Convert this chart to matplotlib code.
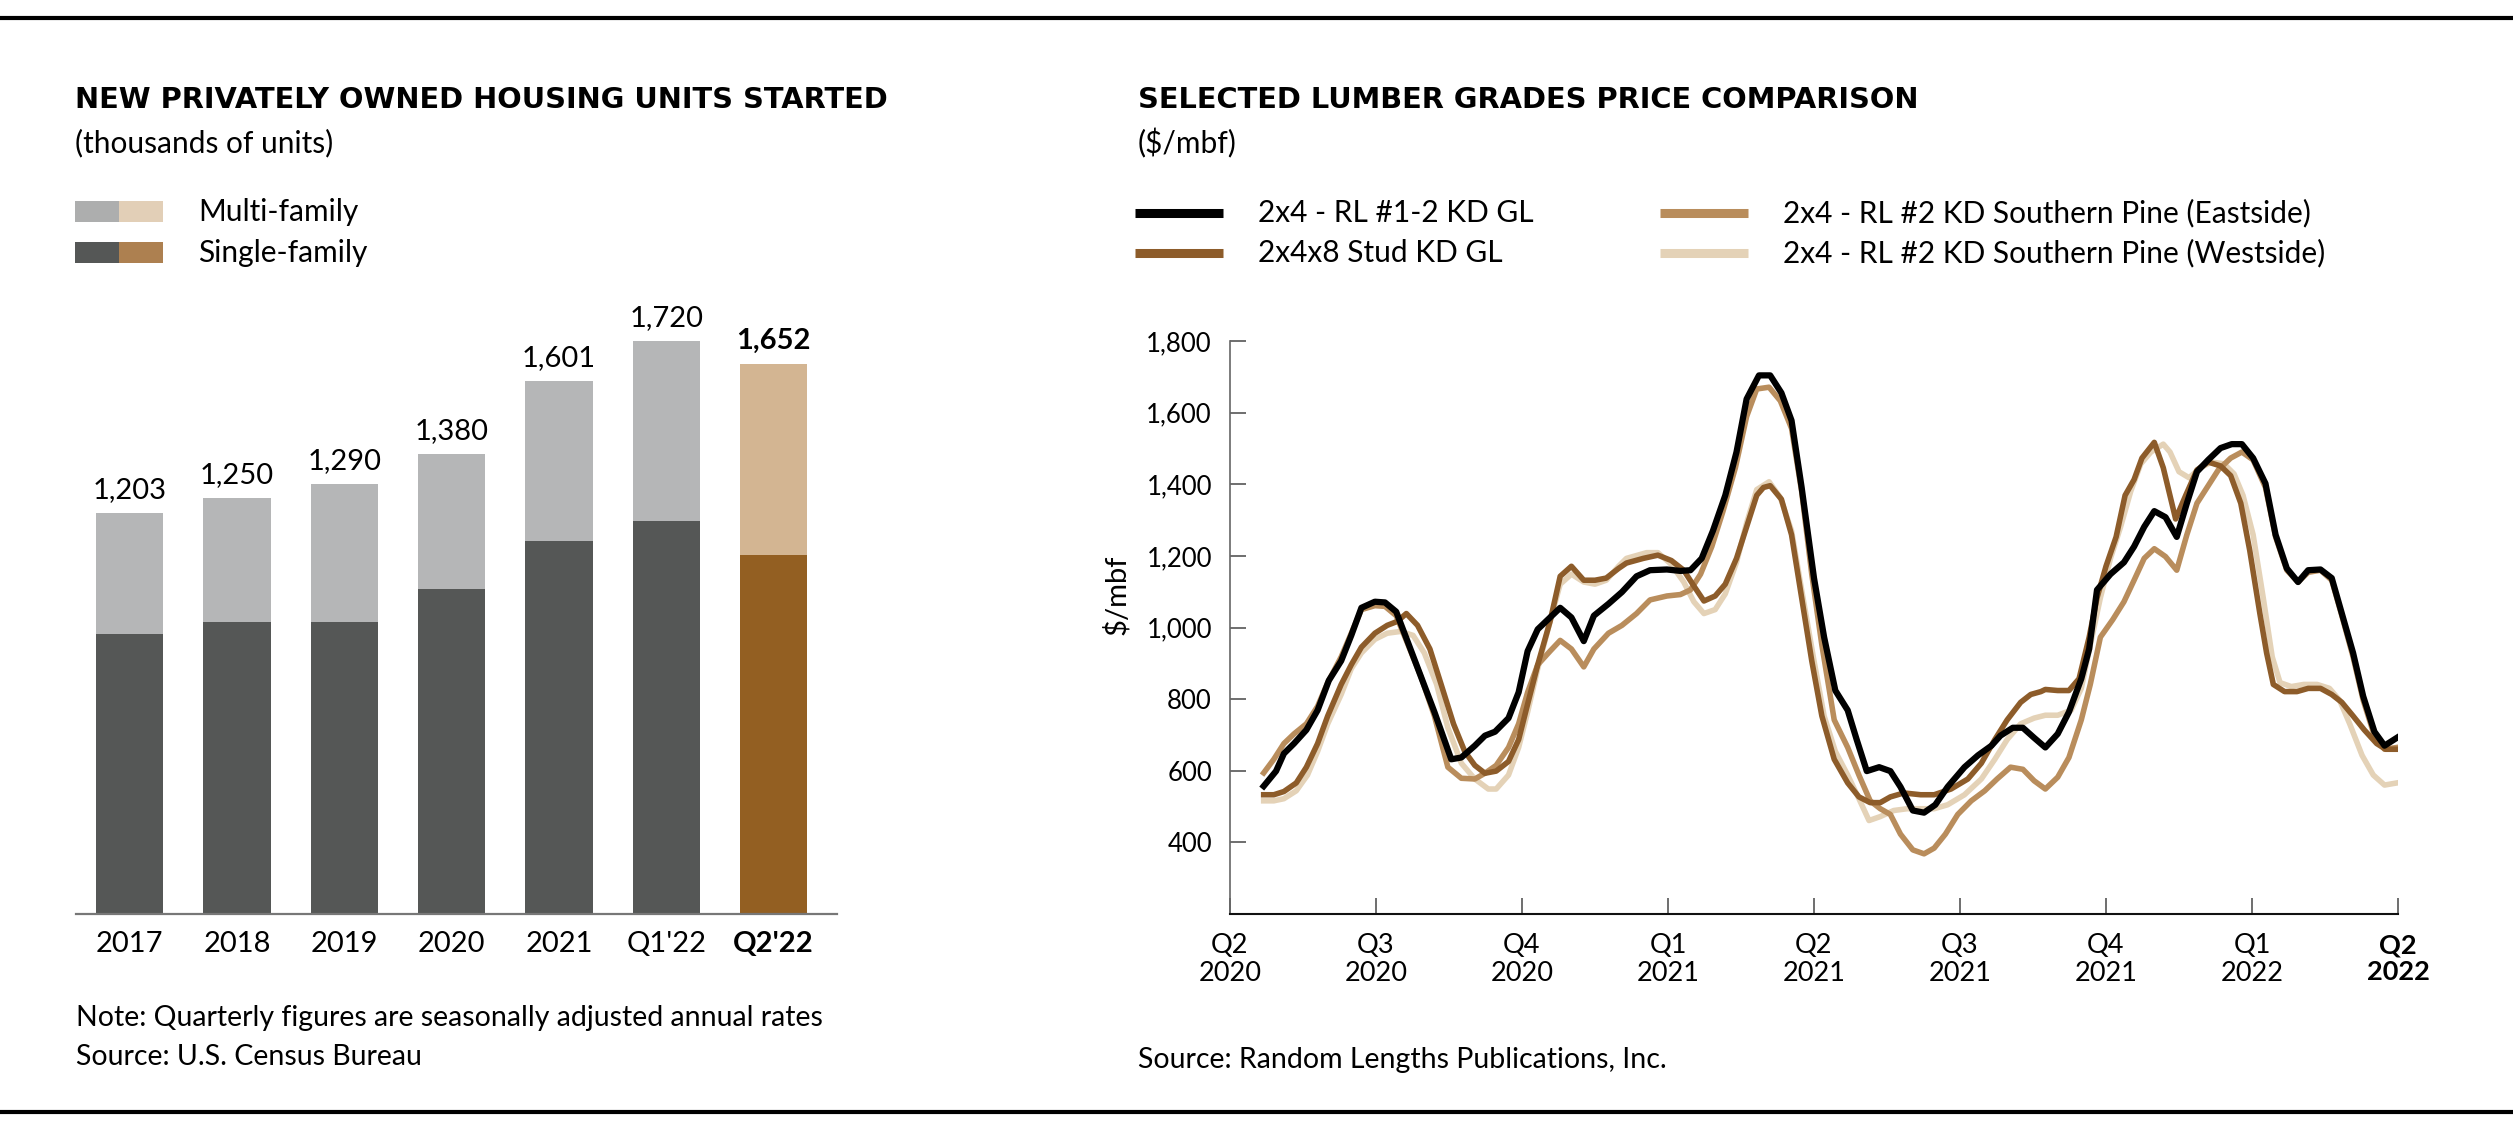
import matplotlib
matplotlib.use("Agg")
import matplotlib.pyplot as plt
from matplotlib.lines import Line2D
from matplotlib.patches import Rectangle

plt.rcParams['font.family'] = ['Lato', 'DejaVu Sans']

# ---- housing starts (thousands of units) ----
categories = ['2017', '2018', '2019', '2020', '2021', "Q1'22", "Q2'22"]
total_units = [1203, 1250, 1290, 1380, 1601, 1720, 1652]
single_family = [840, 877, 877, 976, 1120, 1180, 1078]

# ---- lumber prices ($/mbf), x = weeks since start of Q2 2020 ----
quarter_labels = ['Q2\n2020', 'Q3\n2020', 'Q4\n2020', 'Q1\n2021', 'Q2\n2021',
                  'Q3\n2021', 'Q4\n2021', 'Q1\n2022', 'Q2\n2022']

gl_weeks = [3.0, 4.1, 4.8, 5.7, 6.8, 7.8, 8.8, 9.9, 10.8, 11.7, 12.9, 13.8, 14.8, 15.8, 17.0,
            18.2, 19.7, 20.6, 21.8, 22.7, 23.6, 24.8, 25.7, 26.5, 27.4, 28.5, 29.4, 30.4, 31.5,
            32.4, 33.7, 34.9, 36.2, 37.4, 38.9, 40.1, 41.0, 42.0, 43.0, 44.1, 45.1, 46.0, 47.1,
            48.1, 49.1, 50.0, 50.9, 52.0, 52.9, 53.9, 55.0, 55.8, 56.7, 57.8, 58.8, 59.7, 60.8,
            61.8, 62.8, 63.9, 65.4, 66.6, 67.8, 68.6, 69.7, 70.6, 71.6, 72.6, 73.7, 74.7, 75.8,
            76.5, 77.2, 78.4, 79.6, 80.5, 81.4, 82.3, 83.3, 84.3, 85.2, 86.1, 87.1, 88.2, 89.2,
            90.1, 91.1, 92.2, 93.1, 94.1, 95.1, 96.0, 97.1, 98.1, 99.1, 100.0, 100.9, 101.9,
            102.8, 103.9]
gl_price = [557, 599, 648, 676, 714, 769, 852, 907, 978, 1055, 1072, 1070, 1044, 962, 863,
            764, 632, 637, 670, 698, 709, 747, 819, 934, 995, 1028, 1055, 1028, 962,
            1033, 1066, 1099, 1143, 1160, 1162, 1158, 1160, 1193, 1270, 1369, 1490, 1638, 1704,
            1704, 1655, 1578, 1391, 1138, 973, 824, 769, 687, 599, 610, 599, 555, 489,
            483, 505, 555, 610, 643, 670, 698, 720, 720, 692, 665, 703, 764, 857,
            940, 1105, 1149, 1182, 1226, 1281, 1325, 1308, 1253, 1347, 1435, 1468, 1501, 1512,
            1512, 1473, 1402, 1259, 1165, 1127, 1160, 1162, 1138, 1028, 929, 808, 709,
            670, 692]

stud_weeks = [3.0, 3.9, 4.8, 5.9, 6.8, 7.8, 8.7, 9.9, 10.8, 11.7, 12.9, 14.0, 14.9, 15.7, 16.7,
              17.8, 18.8, 19.9, 20.9, 21.8, 22.7, 23.7, 24.8, 25.7, 26.5, 27.4, 28.5, 29.4, 30.4,
              31.5, 32.5, 33.5, 34.6, 35.3, 36.8, 38.1, 39.3, 40.4, 41.3, 42.2, 43.2, 44.1, 45.1,
              46.0, 46.9, 47.5, 48.1, 49.1, 50.0, 50.9, 51.8, 52.7, 53.8, 55.0, 56.0, 57.0, 57.9,
              58.8, 60.0, 61.5, 62.7, 64.2, 65.7, 66.9, 68.1, 69.2, 70.4, 71.3, 72.2, 72.6, 73.7,
              74.7, 75.6, 76.5, 77.2, 78.0, 78.9, 79.7, 80.5, 81.2, 82.3, 83.1, 84.2, 85.1, 86.1,
              87.1, 88.2, 89.1, 90.0, 90.8, 91.7, 92.3, 92.9, 93.9, 95.0, 96.0, 97.1, 98.1, 99.0,
              100.0, 101.0, 102.1, 102.9, 103.9]
stud_price = [533, 533, 542, 566, 610, 676, 753, 841, 896, 945, 984, 1006, 1017, 1039, 1006,
              940, 841, 731, 654, 615, 593, 599, 626, 687, 786, 896, 1017, 1143, 1171,
              1132, 1132, 1138, 1165, 1180, 1193, 1202, 1187, 1160, 1116, 1074, 1088, 1121, 1193,
              1281, 1369, 1391, 1396, 1358, 1259, 1083, 907, 753, 632, 566, 527, 511, 511,
              527, 538, 533, 533, 549, 577, 621, 687, 742, 791, 813, 821, 827, 824,
              824, 857, 973, 1083, 1171, 1253, 1369, 1413, 1473, 1517, 1446, 1303, 1369, 1440,
              1462, 1451, 1424, 1347, 1215, 1039, 929, 841, 821, 821, 830, 830, 813, 791,
              753, 714, 676, 660, 660]

east_weeks = [3.0, 3.9, 4.8, 5.7, 6.8, 7.8, 8.7, 9.9, 10.8, 11.7, 12.9, 13.8, 14.8, 15.8, 17.0,
              18.2, 19.4, 20.6, 21.8, 22.7, 23.7, 24.8, 25.7, 26.5, 27.4, 28.5, 29.4, 30.4, 31.5,
              32.4, 33.7, 34.9, 36.2, 37.4, 38.9, 40.1, 41.0, 41.9, 42.9, 43.9, 45.0, 46.0, 46.9,
              48.0, 49.0, 50.0, 50.9, 51.8, 52.7, 53.8, 55.0, 56.0, 57.0, 57.9, 58.8, 59.7, 60.8,
              61.8, 62.7, 63.7, 64.8, 66.0, 67.2, 68.3, 69.5, 70.6, 71.6, 72.6, 73.7, 74.7, 75.8,
              76.6, 77.5, 78.6, 79.6, 80.5, 81.4, 82.3, 83.3, 84.3, 85.2, 86.1, 87.0, 88.0, 89.1,
              90.1, 91.1, 92.2, 93.1, 94.1, 95.1, 96.0, 97.1, 98.1, 99.0, 100.0, 100.9, 101.9,
              102.8, 103.9]
east_price = [594, 632, 676, 703, 731, 780, 846, 918, 984, 1050, 1061, 1059, 1033, 956, 863,
              753, 610, 579, 577, 593, 615, 665, 731, 819, 896, 934, 964, 940, 890,
              940, 984, 1006, 1039, 1077, 1088, 1092, 1105, 1149, 1226, 1325, 1446, 1589, 1666,
              1671, 1633, 1556, 1380, 1149, 951, 742, 665, 588, 516, 494, 478, 423, 379,
              368, 384, 423, 478, 516, 544, 577, 610, 604, 572, 549, 582, 637, 742,
              841, 973, 1022, 1072, 1132, 1193, 1220, 1198, 1160, 1259, 1347, 1391, 1440, 1473,
              1490, 1468, 1391, 1253, 1160, 1127, 1154, 1160, 1132, 1033, 918, 797, 698,
              660, 665]

west_weeks = [3.0, 3.9, 4.8, 5.9, 6.9, 7.8, 8.7, 9.9, 10.8, 11.7, 12.9, 14.0, 15.2, 16.3, 17.3,
              18.4, 19.4, 20.6, 21.8, 23.0, 23.7, 24.8, 25.7, 26.5, 27.4, 28.5, 29.4, 30.4, 31.5,
              32.5, 33.5, 34.6, 35.3, 37.1, 38.1, 39.3, 40.4, 41.3, 42.2, 43.2, 44.1, 45.1, 46.0,
              46.9, 48.0, 49.0, 50.0, 50.9, 52.0, 52.9, 53.9, 55.0, 56.0, 56.9, 57.9, 59.1, 60.3,
              61.5, 62.7, 63.9, 65.4, 66.9, 68.1, 69.2, 70.4, 71.6, 72.6, 73.7, 74.9, 75.8, 76.6,
              77.5, 78.4, 79.3, 80.2, 81.1, 82.0, 83.1, 83.7, 84.5, 85.4, 86.4, 87.4, 88.5, 89.4,
              90.2, 91.1, 92.0, 92.8, 93.5, 94.5, 95.6, 96.8, 97.9, 98.8, 99.7, 100.8, 101.8,
              102.8, 103.9]
west_price = [516, 516, 522, 544, 588, 654, 731, 813, 885, 929, 967, 984, 989, 978, 929,
              841, 720, 621, 577, 549, 549, 588, 665, 764, 885, 1017, 1121, 1149, 1127,
              1121, 1132, 1171, 1193, 1209, 1209, 1176, 1127, 1072, 1039, 1050, 1094, 1182, 1292,
              1385, 1407, 1363, 1270, 1105, 907, 753, 654, 588, 522, 461, 472, 489, 494,
              494, 494, 505, 533, 577, 632, 687, 731, 747, 755, 755, 769, 830, 951,
              1083, 1193, 1281, 1380, 1457, 1490, 1512, 1490, 1435, 1418, 1446, 1462, 1457, 1429,
              1369, 1259, 1083, 918, 846, 835, 841, 841, 830, 797, 731, 643, 588,
              560, 566]

series_names = ['2x4 - RL #1-2 KD GL', '2x4x8 Stud KD GL',
                '2x4 - RL #2 KD Southern Pine (Eastside)',
                '2x4 - RL #2 KD Southern Pine (Westside)']

W, H = 2513, 1137
def fx(x):
    return x / W
def fy(y):
    return 1 - y / H

fig = plt.figure(figsize=(W / 100, H / 100), dpi=100)
title_font = ['DejaVu Sans']

# horizontal rules
fig.add_artist(Line2D([0, 1], [fy(18), fy(18)], color='black', lw=3))
fig.add_artist(Line2D([0, 1], [fy(1112), fy(1112)], color='black', lw=3))

# ---------------- left chart ----------------
fig.text(fx(75), fy(100), 'NEW PRIVATELY OWNED HOUSING UNITS STARTED',
         fontsize=20.8, fontweight='bold', va='center', family=title_font)
fig.text(fx(75), fy(143), '(thousands of units)', fontsize=21.5, va='center')

for yy, cols, lab in [(212, ('#adaeae', '#e2cfb7'), 'Multi-family'),
                      (253, ('#555756', '#ad8050'), 'Single-family')]:
    fig.add_artist(Rectangle((fx(75), fy(yy + 10)), 44 / W, 21 / H, color=cols[0], lw=0))
    fig.add_artist(Rectangle((fx(119), fy(yy + 10)), 44 / W, 21 / H, color=cols[1], lw=0))
    fig.text(fx(198), fy(yy), lab, fontsize=21.5, va='center')

ax1 = fig.add_axes([fx(76), fy(914), (837 - 76) / W, 633 / H])
xs = list(range(len(categories)))
multi_family = [t - s for t, s in zip(total_units, single_family)]
single_cols = ['#555756'] * 6 + ['#935f22']
multi_cols = ['#b5b6b7'] * 6 + ['#d3b592']
ax1.bar(xs, single_family, width=0.625, color=single_cols)
ax1.bar(xs, multi_family, bottom=single_family, width=0.625, color=multi_cols)
for i, t in enumerate(total_units):
    ax1.annotate(f'{t:,}', (i, t), xytext=(0, 7), textcoords='offset points',
                 ha='center', va='bottom', fontsize=21,
                 fontweight='bold' if i == len(total_units) - 1 else 'normal')
ax1.set_xlim(-0.5, 6.59)
ax1.set_ylim(0, 1900)
ax1.set_yticks([])
ax1.set_xticks(xs, categories, fontsize=21)
ax1.get_xticklabels()[-1].set_fontweight('bold')
ax1.tick_params(axis='x', length=0, pad=12)
for s in ['top', 'right', 'left']:
    ax1.spines[s].set_visible(False)
ax1.spines['bottom'].set_color('#777777')
ax1.spines['bottom'].set_linewidth(1.6)

fig.text(fx(76), fy(1018), 'Note: Quarterly figures are seasonally adjusted annual rates',
         fontsize=20.5, va='center')
fig.text(fx(76), fy(1057), 'Source: U.S. Census Bureau', fontsize=20.5, va='center')

# ---------------- right chart ----------------
fig.text(fx(1138), fy(100), 'SELECTED LUMBER GRADES PRICE COMPARISON',
         fontsize=20.8, fontweight='bold', va='center', family=title_font)
fig.text(fx(1138), fy(143), r'(\$/mbf)', fontsize=21.5, va='center')

line_cols = ['#000000', '#8d5c2a', '#b98d5c', '#e4d2b7']
leg_pos = [(1135, 213), (1135, 253), (1660, 213), (1660, 253)]
for (lx, ly), c, name in zip(leg_pos, line_cols, series_names):
    fig.add_artist(Line2D([fx(lx), fx(lx + 88)], [fy(ly), fy(ly)], color=c, lw=6.5,
                          solid_capstyle='butt'))
    fig.text(fx(lx + 123), fy(ly), name, fontsize=21.5, va='center')

ax2 = fig.add_axes([fx(1230), fy(914), (2398 - 1230) / W, 573 / H])
ax2.plot(west_weeks, west_price, color=line_cols[3], lw=4.0)
ax2.plot(east_weeks, east_price, color=line_cols[2], lw=4.0)
ax2.plot(stud_weeks, stud_price, color=line_cols[1], lw=4.0)
ax2.plot(gl_weeks, gl_price, color=line_cols[0], lw=4.5)
ax2.set_xlim(0, 104)
ax2.set_ylim(200, 1800)
yt = list(range(400, 1801, 200))
ax2.set_yticks(yt, [f'{v:,}' for v in yt], fontsize=18.5)
ax2.set_xticks([13 * i for i in range(9)], quarter_labels, fontsize=19.5, linespacing=1.15)
ax2.get_xticklabels()[-1].set_fontweight('bold')
ax2.tick_params(axis='both', direction='in', length=11.5, width=1.2, color='#555555')
ax2.tick_params(axis='y', pad=13)
ax2.tick_params(axis='x', pad=14)
for s in ['top', 'right']:
    ax2.spines[s].set_visible(False)
ax2.spines['left'].set_color('#666666')
ax2.spines['left'].set_linewidth(1.2)
ax2.spines['bottom'].set_color('#111111')
ax2.spines['bottom'].set_linewidth(1.5)
ax2.text(-0.097, 0.557, r'\$/mbf', rotation=90, transform=ax2.transAxes,
         ha='center', va='center', fontsize=21)

fig.text(fx(1138), fy(1060), 'Source: Random Lengths Publications, Inc.',
         fontsize=20.5, va='center')

fig.savefig('out.png', dpi=100)
